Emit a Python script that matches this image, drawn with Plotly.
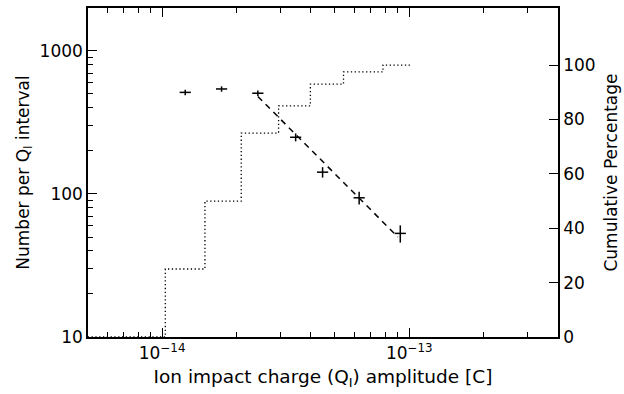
import plotly.graph_objects as go

# Differential counts per Q_I interval (crosses)
q_points = [1.24e-14, 1.74e-14, 2.44e-14, 3.47e-14, 4.46e-14, 6.27e-14, 9.2e-14]
n_points = [513, 542, 506, 249, 142, 94, 53]
n_err = [22.6, 23.3, 22.5, 15.8, 11.9, 9.7, 7.3]

# Power-law fit (dashed)
q_fit = [2.44e-14, 9.0e-14]
n_fit = [480, 50]

# Cumulative percentage (dotted step line, right axis)
q_cum = [5e-15, 1.03e-14, 1.49e-14, 2.09e-14, 2.96e-14, 3.98e-14, 5.42e-14, 7.83e-14, 1.03e-13]
pct_cum = [0, 0, 25, 50, 75, 85, 93, 97.5, 100]

x_ticks = [1e-14, 1e-13]
x_ticktext = ["10<sup>−14</sup>", "10<sup>−13</sup>"]
y_ticks = [10, 100, 1000]
y_ticktext = ["10", "100", "1000"]
y2_ticks = [0, 20, 40, 60, 80, 100]

FONT = "DejaVu Sans, Verdana, sans-serif"

fig = go.Figure()
fig.add_trace(go.Scatter(
    x=q_cum, y=pct_cum, yaxis="y2", mode="lines", line_shape="vh",
    line=dict(color="black", width=1.3, dash="1.3px,2.5px"), showlegend=False))
fig.add_trace(go.Scatter(
    x=q_fit, y=n_fit, mode="lines",
    line=dict(color="black", width=1.5, dash="6px,5px"), showlegend=False))
fig.add_trace(go.Scatter(
    x=q_points, y=n_points, mode="markers",
    marker=dict(symbol="line-ew", size=8, line=dict(color="black", width=1.5)),
    error_y=dict(type="data", array=n_err, color="black", thickness=1.5, width=0),
    showlegend=False))

fig.update_layout(
    width=624, height=394,
    margin=dict(l=88, r=62, t=6, b=57),
    paper_bgcolor="white", plot_bgcolor="white",
    font=dict(family=FONT, size=16, color="black"),
    xaxis=dict(
        type="log", range=[-14.3, -12.398],
        tickmode="array", tickvals=x_ticks, ticktext=x_ticktext,
        ticks="inside", ticklen=9, tickwidth=1.2, tickcolor="black",
        minor=dict(ticks="inside", ticklen=5, tickwidth=1, tickcolor="black",
                   tickvals=[6e-15, 7e-15, 8e-15, 9e-15, 2e-14, 3e-14, 4e-14, 5e-14,
                             6e-14, 7e-14, 8e-14, 9e-14, 2e-13, 3e-13]),
        showline=True, linecolor="black", linewidth=1.5, mirror="ticks",
        showgrid=False, zeroline=False,
        tickfont=dict(size=17),
        title=dict(text="Ion impact charge (Q<sub>I</sub>) amplitude [C]",
                   font=dict(size=18.5), standoff=8),
    ),
    yaxis=dict(
        type="log", range=[1, 3.3],
        tickmode="array", tickvals=y_ticks, ticktext=y_ticktext,
        ticks="inside", ticklen=9, tickwidth=1.2, tickcolor="black",
        minor=dict(ticks="inside", ticklen=5, tickwidth=1, tickcolor="black",
                   tickvals=[20, 30, 40, 50, 60, 70, 80, 90,
                             200, 300, 400, 500, 600, 700, 800, 900]),
        showline=True, linecolor="black", linewidth=1.5, mirror=False,
        showgrid=False, zeroline=False,
        tickfont=dict(size=17),
        title=dict(text="Number per Q<sub>I</sub> interval", font=dict(size=17), standoff=6),
    ),
    yaxis2=dict(
        overlaying="y", side="right", range=[0, 121],
        tickmode="array", tickvals=y2_ticks,
        ticks="inside", ticklen=9, tickwidth=1.2, tickcolor="black",
        showline=True, linecolor="black", linewidth=1.5,
        showgrid=False, zeroline=False,
        tickfont=dict(size=17),
        title=dict(text="Cumulative Percentage", font=dict(size=17), standoff=10),
    ),
)

fig.write_html("out.html")
